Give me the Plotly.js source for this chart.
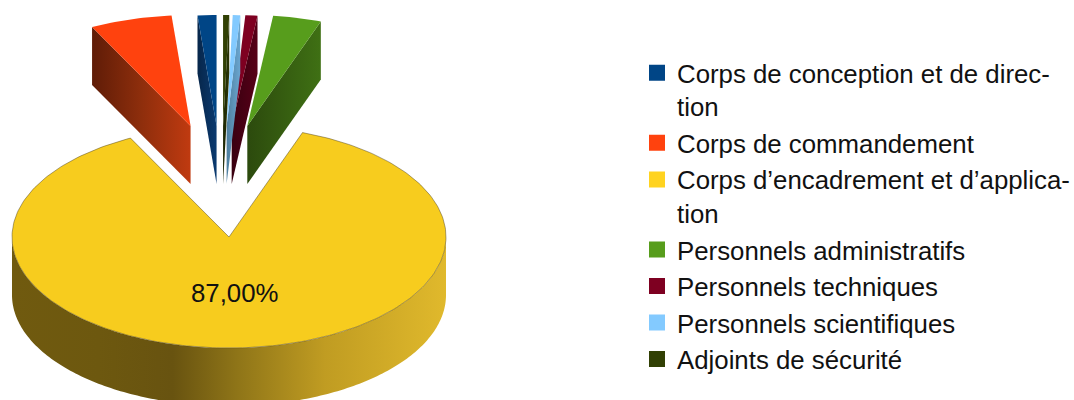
<!DOCTYPE html>
<html><head><meta charset="utf-8">
<script src="https://cdn.plot.ly/plotly-3.0.1.min.js"></script>
<style>html,body{margin:0;padding:0;background:#fff}</style></head>
<body><div id="chart" style="width:1074px;height:400px"></div>
<script>
// Data (percent), counter-clockwise from 12 o'clock, as in the legend
const categories = ["Corps de conception et de direc-<br>tion","Corps de commandement","Corps d’encadrement et d’applica-<br>tion","Personnels administratifs","Personnels techniques","Personnels scientifiques","Adjoints de sécurité"];
const values = [1.4, 6.1, 87.0, 3.6, 0.9, 0.55, 0.45];
const faceColors = ["#004586","#ff420e","#f7cc1e","#579d1c","#7e0021","#83caff","#314004"];
const legendColors = ["#004586","#ff420e","#ffd320","#579d1c","#7e0021","#83caff","#314004"];
const wallScales = [
  [[0,"#07264a"],[1,"#0a3a70"]],
  [[0,"#5f1c07"],[0.5,"#8e2e0c"],[1,"#c03a10"]],
  [[0,"#705a0f"],[0.2,"#6d580f"],[0.37,"#685310"],[0.52,"#8f7518"],[0.72,"#c09c22"],[1,"#e0b92c"]],
  [[0,"#2c4a0d"],[1,"#3f7014"]],
  [[0,"#3a0010"],[1,"#560017"]],
  [[0,"#4f7f9e"],[1,"#6aa6d0"]],
  [[0,"#1c2503"],[1,"#2a3604"]]
];
const labelText = "87,00%";

// Projection constants (pixels)
const CX = 229, CY = 237, RX = 217, RY = 111, DEPTH = 58, PULL = 112, LIFT = 111, OFF = 7.5;
const total = values.reduce((a,b)=>a+b,0);
const px = (a,ox,oy)=>[ox+RX*Math.cos(a), oy-RY*Math.sin(a)];
const traces = [];
let start = Math.PI/2;
values.forEach((v,i)=>{
  const sweep = v/total*2*Math.PI, end = start+sweep, mid = (start+end)/2;
  const big = v/total > 0.5;
  const ox = big ? CX : CX + PULL*Math.cos(mid) - OFF;
  const oy = big ? CY : CY - LIFT;
  const n = Math.max(4, Math.ceil(sweep/0.02));
  const arc = [];
  for (let k=0;k<=n;k++) arc.push(px(start+sweep*k/n,ox,oy));
  // wall
  if (big) {
    const a0 = Math.PI, a1 = 2*Math.PI, up = [], dn = [];
    for (let k=0;k<=180;k++){ const a=a0+(a1-a0)*k/180; up.push(px(a,ox,oy)); dn.unshift(px(a,ox,oy+DEPTH)); }
    const poly = up.concat(dn);
    traces.push({type:"scatter",mode:"none",x:poly.map(p=>p[0]),y:poly.map(p=>p[1]),fill:"toself",
      fillgradient:{type:"horizontal",colorscale:wallScales[i]},showlegend:false,hoverinfo:"skip"});
  } else {
    const e = Math.cos(mid)>0 ? start : end;
    const o = px(e,ox,oy);
    const xs=[ox,o[0],o[0],ox,ox], ys=[oy,o[1],o[1]+DEPTH,oy+DEPTH,oy];
    traces.push({type:"scatter",mode:"none",x:xs,y:ys,fill:"toself",
      fillgradient:{type:"horizontal",colorscale:wallScales[i]},showlegend:false,hoverinfo:"skip"});
  }
  // top face
  const fx=[ox].concat(arc.map(p=>p[0]),[ox]), fy=[oy].concat(arc.map(p=>p[1]),[oy]);
  traces.push({type:"scatter",mode:"lines",x:fx,y:fy,fill:"toself",fillcolor:faceColors[i],
    line:{color:big?"rgba(70,60,30,0.65)":"rgba(0,0,0,0)",width:big?0.7:0},showlegend:false,hoverinfo:"skip"});
  start = end;
});
// legend entries
categories.forEach((c,i)=>traces.push({type:"scatter",mode:"markers",x:[null],y:[null],name:c,
  marker:{symbol:"square",size:16,color:legendColors[i]},showlegend:true,hoverinfo:"skip"}));

const layout = {
  width:1074,height:400,margin:{l:0,r:0,t:0,b:0,autoexpand:false},paper_bgcolor:"#fff",plot_bgcolor:"#fff",
  font:{family:"Liberation Sans, Arial, sans-serif",size:25.8,color:"#111"},
  xaxis:{range:[0,1074],visible:false,fixedrange:true},
  yaxis:{range:[400,0],visible:false,fixedrange:true},
  legend:{x:637/1074,xanchor:"left",y:0.46,yanchor:"middle",valign:"top",bgcolor:"rgba(0,0,0,0)",font:{size:25.8,color:"#111"},traceorder:"normal",itemclick:false,itemdoubleclick:false},
  annotations:[{x:235,y:293,xref:"x",yref:"y",text:labelText,showarrow:false,font:{size:25.8,color:"#111"}}]
};
Plotly.newPlot("chart",traces,layout,{displayModeBar:false,staticPlot:true});
</script></body></html>
